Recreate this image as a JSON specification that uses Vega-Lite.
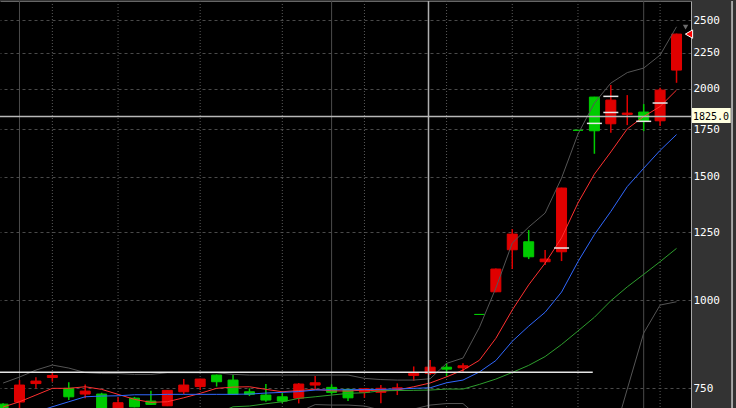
{
  "$schema": "https://vega.github.io/schema/vega-lite/v6.json",
  "width": 691,
  "height": 410,
  "autosize": {"type": "none"},
  "padding": {"left": 0, "top": 1, "right": 45, "bottom": 0},
  "background": "#333333",
  "config": {"view": {"fill": "#000000", "stroke": null}, "font": "DejaVu Sans Mono"},
  "datasets": {
    "days": [
      {"day": 0, "open": 712, "high": 714, "low": 690, "close": 695, "ma5": 705.3, "ma25": null, "ma75": null, "bbUp": 762.9, "bbLow": null},
      {"day": 1, "open": 716.9, "high": 770.4, "low": 690, "close": 757.9, "ma5": 717.6, "ma25": null, "ma75": null, "bbUp": 778, "bbLow": null},
      {"day": 2, "open": 761.6, "high": 777.3, "low": 749.8, "close": 767.9, "ma5": 733.5, "ma25": 693.8, "ma75": null, "bbUp": 796, "bbLow": null},
      {"day": 3, "open": 776.9, "high": 790.1, "low": 766.2, "close": 782, "ma5": 749.8, "ma25": 705.9, "ma75": null, "bbUp": 809.2, "bbLow": null},
      {"day": 4, "open": 749.8, "high": 764.6, "low": 721.6, "close": 729.3, "ma5": 749.8, "ma25": 717.6, "ma75": null, "bbUp": 801.3, "bbLow": null},
      {"day": 5, "open": 735.9, "high": 759.6, "low": 726.1, "close": 743.1, "ma5": 753.7, "ma25": 729.4, "ma75": null, "bbUp": 789.5, "bbLow": null},
      {"day": 6, "open": 735.9, "high": 739, "low": 690, "close": 695, "ma5": 747.3, "ma25": 731.1, "ma75": null, "bbUp": 787, "bbLow": null},
      {"day": 7, "open": 695, "high": 728, "low": 690, "close": 715.3, "ma5": 735.2, "ma25": 731.8, "ma75": null, "bbUp": 787, "bbLow": null},
      {"day": 8, "open": 726.1, "high": 729.2, "low": 704.6, "close": 705.7, "ma5": 723.2, "ma25": 734.2, "ma75": null, "bbUp": 784.9, "bbLow": null},
      {"day": 9, "open": 719.2, "high": 743.9, "low": 709.9, "close": 711.5, "ma5": 716.2, "ma25": 734.2, "ma75": null, "bbUp": 784.9, "bbLow": null},
      {"day": 10, "open": 708.2, "high": 745.5, "low": 707.5, "close": 744.8, "ma5": 717.6, "ma25": 735.2, "ma75": null, "bbUp": 789, "bbLow": null},
      {"day": 11, "open": 741.4, "high": 772.9, "low": 735.2, "close": 757.9, "ma5": 727, "ma25": 735.2, "ma75": null, "bbUp": 789, "bbLow": null},
      {"day": 12, "open": 754.2, "high": 773.5, "low": 745.6, "close": 772.9, "ma5": 737.6, "ma25": 735.2, "ma75": null, "bbUp": 789, "bbLow": null},
      {"day": 13, "open": 783.1, "high": 784.4, "low": 754.2, "close": 766.2, "ma5": 749.8, "ma25": 735.2, "ma75": 690, "bbUp": 789, "bbLow": null},
      {"day": 14, "open": 770.4, "high": 783.1, "low": 733.5, "close": 735.2, "ma5": 752.9, "ma25": 735.2, "ma75": 705.9, "bbUp": 784.9, "bbLow": null},
      {"day": 15, "open": 741.4, "high": 749.8, "low": 731.1, "close": 735.2, "ma5": 753.7, "ma25": 735.9, "ma75": 707.6, "bbUp": 783.1, "bbLow": null},
      {"day": 16, "open": 733.5, "high": 760.4, "low": 717.6, "close": 721.6, "ma5": 747.3, "ma25": 738.3, "ma75": 712.9, "bbUp": 783.1, "bbLow": null},
      {"day": 17, "open": 729.3, "high": 740, "low": 714.5, "close": 719.2, "ma5": 741.5, "ma25": 740, "ma75": 717.6, "bbUp": 783.1, "bbLow": null},
      {"day": 18, "open": 726.1, "high": 762.9, "low": 713.8, "close": 760.4, "ma5": 744.4, "ma25": 741.9, "ma75": 725.6, "bbUp": 783.1, "bbLow": 693.8},
      {"day": 19, "open": 757.9, "high": 780.5, "low": 747.3, "close": 763.6, "ma5": 747.3, "ma25": 745.6, "ma75": 729.4, "bbUp": 783.1, "bbLow": 711},
      {"day": 20, "open": 752.2, "high": 759.6, "low": 735.2, "close": 740, "ma5": 743.9, "ma25": 746.3, "ma75": 733.5, "bbUp": 783.1, "bbLow": 709.9},
      {"day": 21, "open": 747.3, "high": 748, "low": 719.2, "close": 726.9, "ma5": 743.2, "ma25": 746.3, "ma75": 737.6, "bbUp": 783.1, "bbLow": 709.9},
      {"day": 22, "open": 740, "high": 749.5, "low": 726.9, "close": 748.8, "ma5": 745.6, "ma25": 746.8, "ma75": 739, "bbUp": 774.7, "bbLow": 707.5},
      {"day": 23, "open": 740, "high": 757.9, "low": 713.8, "close": 749.8, "ma5": 743.2, "ma25": 747.3, "ma75": 743.9, "bbUp": 771.7, "bbLow": 698.3},
      {"day": 24, "open": 748, "high": 762.1, "low": 733.5, "close": 751.2, "ma5": 745.6, "ma25": 748, "ma75": 744.4, "bbUp": 770.4, "bbLow": 698.3},
      {"day": 25, "open": 782.3, "high": 805.5, "low": 768.7, "close": 787.5, "ma5": 753.7, "ma25": 749.8, "ma75": 744.9, "bbUp": 770.4, "bbLow": 700.6},
      {"day": 26, "open": 787.5, "high": 822.5, "low": 783.1, "close": 803.6, "ma5": 763.1, "ma25": 751.2, "ma75": 745.6, "bbUp": 773.7, "bbLow": 709.9},
      {"day": 27, "open": 803.6, "high": 814.2, "low": 780.5, "close": 798.4, "ma5": 778.5, "ma25": 763.6, "ma75": 748, "bbUp": 813.7, "bbLow": 713.4},
      {"day": 28, "open": 802.1, "high": 814.2, "low": 791.7, "close": 807.3, "ma5": 796, "ma25": 770.4, "ma75": 748, "bbUp": 827.9, "bbLow": 713.4},
      {"day": 29, "open": 955, "high": 955, "low": 955, "close": 955, "ma5": 822, "ma25": 791.1, "ma75": 759.6, "bbUp": 915.5, "bbLow": 681},
      {"day": 30, "open": 1028.6, "high": 1110, "low": 1027, "close": 1108, "ma5": 883.1, "ma25": 821.2, "ma75": 772.9, "bbUp": 1041.1, "bbLow": 600},
      {"day": 31, "open": 1180.2, "high": 1262.9, "low": 1108, "close": 1242.4, "ma5": 969.1, "ma25": 874.7, "ma75": 789.8, "bbUp": 1206.4, "bbLow": 600},
      {"day": 32, "open": 1211.5, "high": 1258.8, "low": 1144.8, "close": 1153.4, "ma5": 1052.1, "ma25": 919.1, "ma75": 808.4, "bbUp": 1271.2, "bbLow": 600},
      {"day": 33, "open": 1134.8, "high": 1179, "low": 1122.5, "close": 1144.8, "ma5": 1129.5, "ma25": 961.8, "ma75": 832, "bbUp": 1330.9, "bbLow": 600},
      {"day": 34, "open": 1172.5, "high": 1446, "low": 1137.4, "close": 1444.4, "ma5": 1227.1, "ma25": 1027.6, "ma75": 865.6, "bbUp": 1492.4, "bbLow": 600},
      {"day": 35, "open": 1745, "high": 1745, "low": 1745, "close": 1745, "ma5": 1375.6, "ma25": 1135.1, "ma75": 904.7, "bbUp": 1723.6, "bbLow": 600},
      {"day": 36, "open": 1945.5, "high": 1947, "low": 1616, "close": 1742.3, "ma5": 1511.6, "ma25": 1240.4, "ma75": 946.2, "bbUp": 1907.6, "bbLow": 600},
      {"day": 37, "open": 1782.7, "high": 2023.5, "low": 1730.9, "close": 1926.5, "ma5": 1625.5, "ma25": 1337.8, "ma75": 998.7, "bbUp": 2036.7, "bbLow": 621},
      {"day": 38, "open": 1838.4, "high": 1958.2, "low": 1775, "close": 1846.2, "ma5": 1753.2, "ma25": 1451.4, "ma75": 1045.2, "bbUp": 2107.9, "bbLow": 748},
      {"day": 39, "open": 1852.3, "high": 1901.4, "low": 1740.5, "close": 1798.5, "ma5": 1825.2, "ma25": 1541, "ma75": 1088.9, "bbUp": 2139.2, "bbLow": 898.5},
      {"day": 40, "open": 1800.3, "high": 2005.6, "low": 1769.4, "close": 1990.6, "ma5": 1886.5, "ma25": 1634, "ma75": 1135.1, "bbUp": 2232.2, "bbLow": 984.8},
      {"day": 41, "open": 2125.3, "high": 2395, "low": 2038.7, "close": 2391, "ma5": 1990.6, "ma25": 1720.8, "ma75": 1185.6, "bbUp": 2448.9, "bbLow": 995.5}
    ],
    "gridDotted": [{"day": 3}, {"day": 7}, {"day": 12}, {"day": 17}, {"day": 22}, {"day": 27}, {"day": 31}, {"day": 35}, {"day": 40}],
    "gridSolid": [{"day": 1}, {"day": 20}, {"day": 39}],
    "marks": [
      {"day": 34, "price": 1187}, {"day": 36, "price": 1785}, {"day": 37, "price": 1950},
      {"day": 37, "price": 1850}, {"day": 39, "price": 1797}, {"day": 40, "price": 1908}
    ],
    "level": [{"from": -0.19, "to": 35.9, "price": 790.1}],
    "cursor": [{"day": 25.9, "price": 1825, "label": "1825.0"}],
    "last": [{"day": 41.76, "price": 2391}],
    "peak": [{"day": 41.55, "price": 2446}]
  },
  "layer": [
    {
      "data": {"name": "gridDotted"},
      "mark": {"type": "rule", "color": "#5a5a5a", "strokeDash": [1, 2], "strokeWidth": 1},
      "encoding": {"x": {"field": "day", "type": "quantitative", "title": null}}
    },
    {
      "data": {"name": "gridSolid"},
      "mark": {"type": "rule", "color": "#4a4a4a", "strokeWidth": 1},
      "encoding": {"x": {"field": "day", "type": "quantitative", "title": null}}
    },
    {
      "data": {"name": "days"},
      "mark": {"type": "rule", "strokeWidth": 1.5, "clip": true},
      "encoding": {
        "x": {"field": "day", "type": "quantitative", "title": null,
          "scale": {"type": "linear", "domain": [-0.187, 41.881], "nice": false, "zero": false, "padding": 0},
          "axis": {"orient": "top", "domain": true, "domainColor": "#666666", "ticks": false, "labels": false, "grid": false, "title": null}},
        "y": {"field": "low", "type": "quantitative", "title": null,
          "scale": {"type": "log", "domain": [696.2, 2664.6], "nice": false, "padding": 0},
          "axis": {"orient": "right", "values": [750, 1000, 1250, 1500, 1750, 2000, 2250, 2500], "format": "d",
            "grid": true, "gridColor": "#4a4a4a", "gridDash": [3, 3],
            "domain": true, "domainColor": "#a8a8a8", "ticks": false,
            "labelColor": "#ffffff", "labelFont": "DejaVu Sans Mono", "labelFontSize": 11, "labelPadding": 2, "title": null}},
        "y2": {"field": "high"},
        "color": {"condition": {"test": "datum.close > datum.open", "value": "#e00000"}, "value": "#00cc00"}
      }
    },
    {
      "data": {"name": "days"},
      "mark": {"type": "bar", "width": 10, "strokeWidth": 1, "clip": true},
      "encoding": {
        "x": {"field": "day", "type": "quantitative", "title": null},
        "y": {"field": "open", "type": "quantitative", "title": null},
        "y2": {"field": "close"},
        "color": {"condition": {"test": "datum.close > datum.open", "value": "#e00000"}, "value": "#00cc00"},
        "stroke": {"condition": {"test": "datum.close > datum.open", "value": "#e00000"}, "value": "#00cc00"}
      }
    },
    {
      "data": {"name": "days"},
      "transform": [{"fold": ["ma5", "ma25", "ma75", "bbUp", "bbLow"], "as": ["series", "value"]}],
      "mark": {"type": "line", "strokeWidth": 1, "clip": true},
      "encoding": {
        "x": {"field": "day", "type": "quantitative", "title": null},
        "y": {"field": "value", "type": "quantitative", "title": null},
        "color": {"field": "series", "type": "nominal", "legend": null,
          "scale": {"domain": ["ma5", "ma25", "ma75", "bbUp", "bbLow"], "range": ["#ff3030", "#3068ff", "#2e9e2e", "#555555", "#555555"]}}
      }
    },
    {
      "data": {"name": "marks"},
      "mark": {"type": "tick", "orient": "horizontal", "color": "#e8e8e8", "size": 15, "thickness": 1.5, "opacity": 1},
      "encoding": {
        "x": {"field": "day", "type": "quantitative", "title": null},
        "y": {"field": "price", "type": "quantitative", "title": null}
      }
    },
    {
      "data": {"name": "level"},
      "mark": {"type": "rule", "color": "#e6e6e6", "strokeWidth": 1.5},
      "encoding": {
        "x": {"field": "from", "type": "quantitative", "title": null},
        "x2": {"field": "to"},
        "y": {"field": "price", "type": "quantitative", "title": null}
      }
    },
    {
      "data": {"name": "cursor"},
      "mark": {"type": "rule", "color": "#b0b0b0", "strokeWidth": 1.5},
      "encoding": {"x": {"field": "day", "type": "quantitative", "title": null}}
    },
    {
      "data": {"name": "cursor"},
      "mark": {"type": "rule", "color": "#b8b8b8", "strokeWidth": 1.5},
      "encoding": {"y": {"field": "price", "type": "quantitative", "title": null}}
    },
    {
      "data": {"name": "cursor"},
      "mark": {"type": "rule", "color": "#c8c8c8", "strokeWidth": 1.5, "clip": false},
      "encoding": {"x": {"datum": 44.38, "type": "quantitative", "title": null}}
    },
    {
      "data": {"name": "cursor"},
      "mark": {"type": "rect", "color": "#ffffe0", "clip": false},
      "encoding": {
        "x": {"datum": 41.94, "type": "quantitative", "title": null},
        "x2": {"datum": 44.3},
        "y": {"datum": 1787, "type": "quantitative", "title": null},
        "y2": {"datum": 1877}
      }
    },
    {
      "data": {"name": "cursor"},
      "mark": {"type": "text", "align": "left", "baseline": "middle", "color": "#000000", "font": "DejaVu Sans Mono", "fontSize": 10, "clip": false, "dx": 1},
      "encoding": {
        "x": {"datum": 41.94, "type": "quantitative", "title": null},
        "y": {"field": "price", "type": "quantitative", "title": null},
        "text": {"field": "label"}
      }
    },
    {
      "data": {"name": "peak"},
      "mark": {"type": "point", "shape": "triangle-down", "filled": true, "color": "#9a9a9a", "size": 30, "clip": false},
      "encoding": {
        "x": {"field": "day", "type": "quantitative", "title": null},
        "y": {"field": "price", "type": "quantitative", "title": null}
      }
    },
    {
      "data": {"name": "last"},
      "mark": {"type": "point", "shape": "triangle-left", "filled": true, "fill": "#ff0000", "stroke": "#ffffff", "strokeWidth": 1, "size": 70, "opacity": 1, "clip": false},
      "encoding": {
        "x": {"field": "day", "type": "quantitative", "title": null},
        "y": {"field": "price", "type": "quantitative", "title": null}
      }
    }
  ]
}
